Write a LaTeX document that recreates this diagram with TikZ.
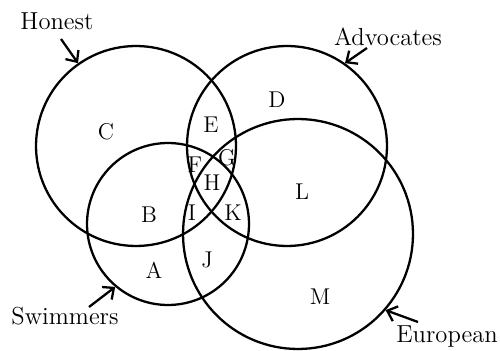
\documentclass[tikz,border=0pt]{standalone}
\usepackage{tikz}
\usetikzlibrary{arrows.meta}

\tikzset{
  setcircle/.style={circle, draw, line width=1.3pt, inner sep=0pt},
  setname/.style={font=\fontsize{14}{16}\selectfont, inner sep=1pt},
  region/.style={font=\fontsize{13}{15}\selectfont, inner sep=0pt},
  pointer/.style={line width=1.3pt, -{Straight Barb[length=5pt,width=9pt]}}
}

\begin{document}
\begin{tikzpicture}[x=0.02cm, y=-0.02cm]
        \useasboundingbox (0,0) rectangle (500,351);

        % the four sets
        \node[setcircle, minimum size=4cm]    (hon) at (136,146) {};
        \node[setcircle, minimum size=4cm]    (adv) at (287,146) {};
        \node[setcircle, minimum size=3.24cm] (swi) at (168,224) {};
        \node[setcircle, minimum size=4.6cm]  (eur) at (298,234) {};

        % names and pointers
        \node[setname] (honest)    at (57,21)  {Honest};
        \node[setname] (advocates) at (388,37) {Advocates};
        \node[setname] (swimmers)  at (65,316) {Swimmers};
        \node[setname] (european)  at (447,337) {European};

        \coordinate (honest tail)    at (61,39);
        \coordinate (advocates tail) at (367,48);
        \coordinate (swimmers tail)  at (89,307);
        \coordinate (european tail)  at (418,322);

        \draw[pointer] (honest tail) -- (hon.125);
        \draw[pointer] (advocates tail) -- (adv.55);
        \draw[pointer] (swimmers tail) -- (swi.230);
        \draw[pointer] (european tail) -- (eur.319);

        % regions
        \foreach \lbl/\px/\py in {A/154/270, B/149/215, C/106/132, D/277/100,
                                  E/211/125, F/195/165, G/227/158, H/212/183,
                                  I/192/213, J/207/260, K/233/213, L/302/192,
                                  M/320/297}
          \node[region] (r\lbl) at (\px,\py) {\lbl};
    \end{tikzpicture}
\end{document}
